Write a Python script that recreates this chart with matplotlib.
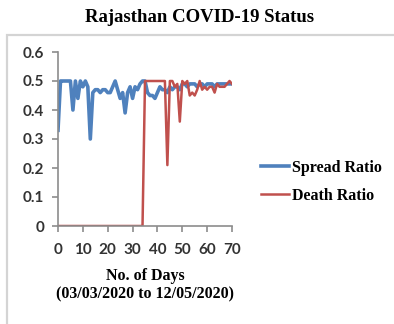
import matplotlib.pyplot as plt
from matplotlib.patches import Rectangle
import numpy as np

# daily ratios, day 0 = 03/03/2020
days = np.arange(0, 71)
spread_ratio = [0.33, 0.50, 0.50, 0.50, 0.50, 0.50, 0.40, 0.50, 0.44, 0.50,
                0.48, 0.50, 0.48, 0.30, 0.46, 0.47, 0.47, 0.46, 0.47, 0.47,
                0.46, 0.46, 0.48, 0.50, 0.47, 0.44, 0.46, 0.39, 0.46, 0.48,
                0.44, 0.48, 0.47, 0.49, 0.50, 0.50, 0.46, 0.45, 0.45, 0.44,
                0.46, 0.48, 0.47, 0.47, 0.46, 0.48, 0.47, 0.48, 0.48, 0.47,
                0.49, 0.49, 0.48, 0.49, 0.49, 0.49, 0.48, 0.49, 0.49, 0.48,
                0.49, 0.49, 0.49, 0.48, 0.49, 0.49, 0.49, 0.49, 0.49, 0.49,
                0.49]
death_ratio = [0.0] * 35 + [0.50, 0.50, 0.50, 0.50, 0.50, 0.50, 0.50, 0.50, 0.50,
                            0.21, 0.50, 0.50, 0.48, 0.49, 0.36, 0.50, 0.49, 0.50,
                            0.45, 0.46, 0.45, 0.47, 0.50, 0.47, 0.48, 0.47, 0.48,
                            0.48, 0.46, 0.49, 0.48, 0.48, 0.48, 0.49, 0.50, 0.49]

x_ticks = [0, 10, 20, 30, 40, 50, 60, 70]
y_ticks = [0, 0.1, 0.2, 0.3, 0.4, 0.5, 0.6]
y_labels = ["0", "0.1", "0.2", "0.3", "0.4", "0.5", "0.6"]

serif = "Liberation Serif"
axis_gray = "#8c8c8c"

fig = plt.figure(figsize=(3.94, 3.24), dpi=100)
fig.patch.set_facecolor("white")

# chart area frame (runs off the right and bottom edges)
fig.add_artist(Rectangle((7 / 394, -0.2), 1.2, 1 - 35 / 324 + 0.2,
                         transform=fig.transFigure, fill=False,
                         edgecolor="#d4d4d4", linewidth=1.6))

ax = fig.add_axes([58 / 394, (324 - 226) / 324, 174 / 394, 174 / 324])
ax.plot(days, spread_ratio, color="#4f81bd", linewidth=2.6, label="Spread Ratio",
        solid_joinstyle="round")
ax.plot(days, death_ratio, color="#c0504d", linewidth=1.8, label="Death Ratio",
        solid_joinstyle="round")

ax.set_xlim(0, 70)
ax.set_ylim(0, 0.6)
ax.set_xticks(x_ticks)
ax.set_yticks(y_ticks)
ax.set_yticklabels(y_labels)
for s in ["top", "right"]:
    ax.spines[s].set_visible(False)
for s in ["left", "bottom"]:
    ax.spines[s].set_color(axis_gray)
    ax.spines[s].set_linewidth(1.2)
ax.tick_params(direction="out", length=4, width=1.2, color=axis_gray,
               labelsize=11, labelcolor="#333333", pad=6)
ax.tick_params(axis="x", pad=8)
for lab in ax.get_xticklabels() + ax.get_yticklabels():
    lab.set_fontfamily("Lato")
    lab.set_fontweight("bold")

ax.set_xlabel("No. of Days\n(03/03/2020 to 12/05/2020)", fontfamily=serif,
              fontweight="bold", fontsize=11.5, labelpad=8, linespacing=1.25)

fig.text(200 / 394, 1 - 18 / 324, "Rajasthan COVID-19 Status", fontfamily=serif,
         fontweight="bold", fontsize=13.5, ha="center", va="center")

fig.legend(loc="center left", bbox_to_anchor=(247 / 394, 1 - 182 / 324),
           frameon=False, prop={"family": serif, "weight": "bold", "size": 11.5},
           handlelength=1.7, handletextpad=0.2, labelspacing=0.75)

fig.savefig("out.png", dpi=100)
